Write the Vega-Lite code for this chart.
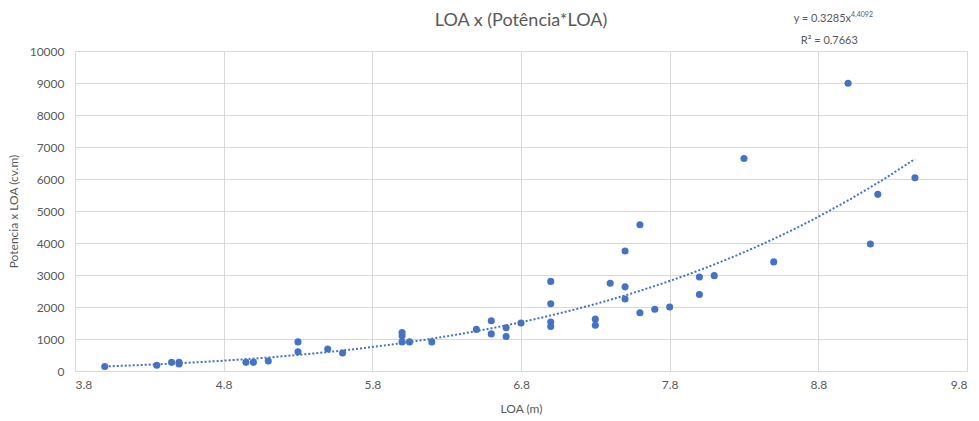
{
  "$schema": "https://vega.github.io/schema/vega-lite/v6.json",
  "autosize": "none",
  "width": 892,
  "height": 320,
  "padding": {"left": 75, "top": 51, "right": 12, "bottom": 50},
  "background": "white",
  "title": {
    "text": "LOA x (Potência*LOA)",
    "font": "Lato",
    "fontSize": 18,
    "fontWeight": "normal",
    "color": "#595959",
    "anchor": "middle",
    "offset": 0,
    "dy": 19
  },
  "config": {
    "view": {"stroke": null},
    "axis": {
      "labelFont": "Lato",
      "titleFont": "Lato",
      "labelFontSize": 12,
      "titleFontSize": 12,
      "labelColor": "#595959",
      "titleColor": "#595959",
      "titleFontWeight": "normal",
      "gridColor": "#d9d9d9",
      "gridWidth": 1,
      "ticks": false,
      "labelOverlap": false
    },
    "axisX": {"labelPadding": 8, "titlePadding": 13, "domainColor": "#d9d9d9", "format": ".1f", "tickCount": 7},
    "axisY": {"labelPadding": 11, "titlePadding": 9, "domain": false, "format": "d", "tickCount": 11}
  },
  "data": {
    "values": [
      {"loa": 4.0, "pot": 140},
      {"loa": 4.35, "pot": 180},
      {"loa": 4.45, "pot": 270},
      {"loa": 4.5, "pot": 270},
      {"loa": 4.5, "pot": 220},
      {"loa": 4.95, "pot": 270},
      {"loa": 5.0, "pot": 270},
      {"loa": 5.1, "pot": 310},
      {"loa": 5.3, "pot": 910},
      {"loa": 5.3, "pot": 600},
      {"loa": 5.5, "pot": 690},
      {"loa": 5.6, "pot": 560},
      {"loa": 6.0, "pot": 1200},
      {"loa": 6.0, "pot": 1100},
      {"loa": 6.0, "pot": 910},
      {"loa": 6.05, "pot": 910},
      {"loa": 6.2, "pot": 910},
      {"loa": 6.5, "pot": 1300},
      {"loa": 6.6, "pot": 1570},
      {"loa": 6.6, "pot": 1160},
      {"loa": 6.7, "pot": 1350},
      {"loa": 6.7, "pot": 1080},
      {"loa": 6.8, "pot": 1500},
      {"loa": 7.0, "pot": 2800},
      {"loa": 7.0, "pot": 2100},
      {"loa": 7.0, "pot": 1530},
      {"loa": 7.0, "pot": 1390},
      {"loa": 7.3, "pot": 1620},
      {"loa": 7.3, "pot": 1430},
      {"loa": 7.4, "pot": 2740},
      {"loa": 7.5, "pot": 3750},
      {"loa": 7.5, "pot": 2630},
      {"loa": 7.5, "pot": 2250},
      {"loa": 7.6, "pot": 4570},
      {"loa": 7.6, "pot": 1820},
      {"loa": 7.7, "pot": 1930},
      {"loa": 7.8, "pot": 2000},
      {"loa": 8.0, "pot": 2940},
      {"loa": 8.0, "pot": 2390},
      {"loa": 8.1, "pot": 2980},
      {"loa": 8.3, "pot": 6640},
      {"loa": 8.5, "pot": 3410},
      {"loa": 9.0, "pot": 8990},
      {"loa": 9.15, "pot": 3970},
      {"loa": 9.2, "pot": 5520},
      {"loa": 9.45, "pot": 6040}
    ]
  },
  "layer": [
    {
      "mark": {"type": "point", "filled": true, "opacity": 1, "size": 50, "color": "#4472C4"},
      "encoding": {
        "x": {
          "field": "loa",
          "type": "quantitative",
          "title": "LOA (m)",
          "scale": {"domain": [3.8, 9.8], "nice": false, "zero": false},
          "axis": {"values": [3.8, 4.8, 5.8, 6.8, 7.8, 8.8, 9.8], "tickCount": 7}
        },
        "y": {
          "field": "pot",
          "type": "quantitative",
          "title": "Potencia x LOA (cv.m)",
          "scale": {"domain": [0, 10000], "nice": false},
          "axis": {"values": [0, 1000, 2000, 3000, 4000, 5000, 6000, 7000, 8000, 9000, 10000], "tickCount": 11}
        }
      }
    },
    {
      "transform": [
        {"regression": "pot", "on": "loa", "method": "pow", "extent": [4.0, 9.45]}
      ],
      "mark": {"type": "line", "color": "#4472C4", "strokeWidth": 2, "strokeDash": [2, 2], "strokeCap": "butt"},
      "encoding": {
        "x": {"field": "loa", "type": "quantitative"},
        "y": {"field": "pot", "type": "quantitative"}
      }
    },
    {
      "data": {"values": [{}]},
      "mark": {"type": "text", "text": "y = 0.3285x", "align": "right", "baseline": "middle", "font": "Lato", "fontSize": 11, "color": "#595959", "clip": false},
      "encoding": {
        "x": {"datum": 9.02, "type": "quantitative"},
        "y": {"datum": 10990, "type": "quantitative"}
      }
    },
    {
      "data": {"values": [{}]},
      "mark": {"type": "text", "text": "4.4092", "align": "left", "baseline": "middle", "dy": -4, "font": "Lato", "fontSize": 7, "color": "#595959", "clip": false},
      "encoding": {
        "x": {"datum": 9.02, "type": "quantitative"},
        "y": {"datum": 10990, "type": "quantitative"}
      }
    },
    {
      "data": {"values": [{}]},
      "mark": {"type": "text", "text": "R² = 0.7663", "align": "center", "baseline": "middle", "font": "Lato", "fontSize": 11, "color": "#595959", "clip": false},
      "encoding": {
        "x": {"datum": 8.874, "type": "quantitative"},
        "y": {"datum": 10320, "type": "quantitative"}
      }
    }
  ]
}
